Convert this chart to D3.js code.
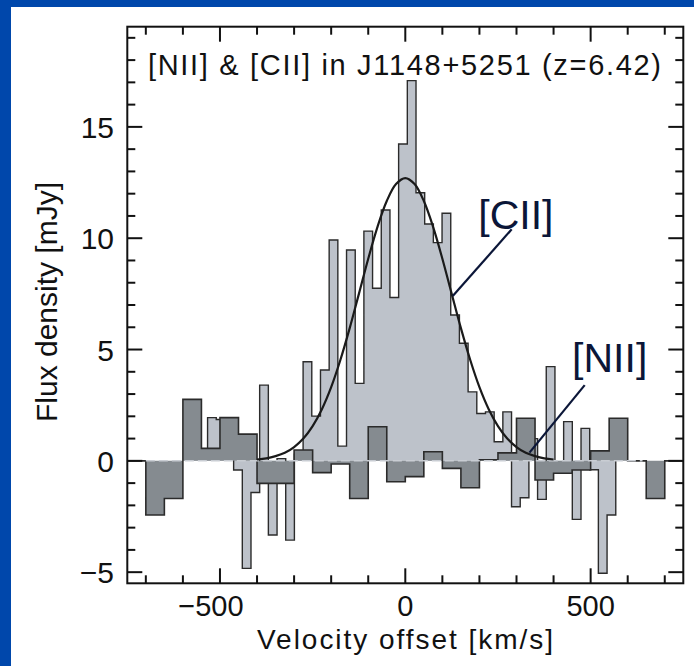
<!DOCTYPE html>
<html>
<head>
<meta charset="utf-8">
<script src="https://cdn.jsdelivr.net/npm/d3@7"></script>
<style>
  html, body { margin: 0; padding: 0; background: #0047AB; }
  svg { display: block; }
  text { font-family: "Liberation Sans", Arial, Helvetica, sans-serif; }
</style>
</head>
<body>
<svg id="chart" width="694" height="666"></svg>
<script>
// ---------------- data ----------------
const titleText = "[NII] & [CII] in J1148+5251 (z=6.42)";
const xLabel = "Velocity offset [km/s]";
const yLabel = "Flux density [mJy]";

// [CII] spectrum: channel centres (km/s) and flux (mJy)
const ciiBinWidth = 23.43;
const ciiVelocity = [-568.6, -545.2, -521.7, -498.3, -474.9, -451.4, -428.0, -404.6, -381.2, -357.7,
  -334.3, -310.9, -287.4, -264.0, -240.6, -217.1, -193.7, -170.3, -146.8, -123.4,
  -100.0, -76.6, -53.1, -29.7, -6.3, 17.2, 40.6, 64.0, 87.4, 110.9,
  134.3, 157.7, 181.2, 204.6, 228.0, 251.5, 274.9, 298.3, 321.8, 345.2,
  368.6, 392.0, 415.5, 438.9, 462.3, 485.8, 509.2, 532.6, 556.1];
const ciiFlux = [0.5, 0.3, 1.94, 1.86, 1.0, -0.41, -4.83, -1.42, 3.40, -3.33,
  0.10, -3.56, 0.30, 4.45, 2.01, 4.08, 9.92, 0.66, 9.47, 3.48,
  10.32, 7.75, 11.27, 7.34, 14.23, 17.08, 12.04, 10.64, 9.80, 11.12,
  6.55, 5.28, 3.10, 2.13, 2.20, 0.86, 2.20, -2.06, -1.66, 1.00,
  -1.73, 4.23, -0.30, 1.76, -2.63, 1.46, -0.40, -5.05, -2.43];

// [NII] spectrum: channel centres (km/s) and flux (mJy)
const niiBinWidth = 50;
const niiVelocity = [-725, -675, -625, -575, -525, -475, -425, -375, -325, -275,
  -225, -175, -125, -75, -25, 25, 75, 125, 175, 225,
  275, 325, 375, 425, 475, 525, 575, 625, 675, 725];
const niiFlux = [0, -2.43, -1.69, 2.76, 0.56, 1.94, 1.20, -1.01, -1.01, 0.49,
  -0.53, -0.14, -1.69, 1.53, -0.94, -0.71, 0.41, -0.34, -1.21, 0.05,
  0.36, 1.91, -0.86, -0.56, -0.41, 0.45, 1.91, 0, -1.69, 0];

// Gaussian fit to [CII]
const fitVelocity = [-400, -375, -350, -325, -300, -275, -250, -225, -200, -175, -150, -125, -100, -75, -50, -25,
  0, 25, 50, 75, 100, 125, 150, 175, 200, 225, 250, 275, 300, 325, 350, 375, 400];
const fitFlux = [0.06, 0.11, 0.21, 0.36, 0.62, 1.00, 1.56, 2.32, 3.31, 4.54, 5.96, 7.51, 9.08, 10.51, 11.67, 12.43,
  12.70, 12.43, 11.67, 10.51, 9.08, 7.51, 5.96, 4.54, 3.31, 2.32, 1.56, 1.00, 0.62, 0.36, 0.21, 0.11, 0.06];

// axes
const xMajorTicks = [-500, 0, 500];
const xMinorTicks = [-700, -600, -400, -300, -200, -100, 100, 200, 300, 400, 600, 700];
const yMajorTicks = [-5, 0, 5, 10, 15];
const yMinorTicks = [-4, -3, -2, -1, 1, 2, 3, 4, 6, 7, 8, 9, 11, 12, 13, 14, 16, 17, 18, 19];

// annotations: label, text anchor point (data units), pointer start & end (data units)
const annotations = [
  { label: "[CII]", at: [197, 10.4], from: [287, 10.4], to: [128, 7.4] },
  { label: "[NII]", at: [450, 4.0], from: [484, 3.4], to: [335, 0.37] }
];

// ---------------- drawing ----------------
const svg = d3.select("#chart");
const W = 694, H = 666;
const plot = { left: 127.3, right: 683.3, top: 26.7, bottom: 583.3 };

svg.append("rect").attr("width", W).attr("height", H).attr("fill", "#0047AB");
svg.append("rect").attr("x", 11).attr("y", 7).attr("width", W - 11).attr("height", H - 7).attr("fill", "#ffffff");

const x = d3.scaleLinear().domain([-750, 750]).range([plot.left, plot.right]);
const y = d3.scaleLinear().domain([-5.5, 19.5]).range([plot.bottom, plot.top]);

const g = svg.append("g");
const clip = svg.append("defs").append("clipPath").attr("id", "pc");
clip.append("rect").attr("x", plot.left).attr("y", plot.top)
  .attr("width", plot.right - plot.left).attr("height", plot.bottom - plot.top);
const pg = g.append("g").attr("clip-path", "url(#pc)");

function stepPoints(vel, flux, w) {
  const pts = [];
  pts.push([vel[0] - w / 2, 0]);
  vel.forEach((v, i) => {
    pts.push([v - w / 2, flux[i]]);
    pts.push([v + w / 2, flux[i]]);
  });
  pts.push([vel[vel.length - 1] + w / 2, 0]);
  return pts;
}

const area = d3.area().x(d => x(d[0])).y0(y(0)).y1(d => y(d[1]));
const line = d3.line().x(d => x(d[0])).y(d => y(d[1]));

// [CII] histogram
const ciiPts = stepPoints(ciiVelocity, ciiFlux, ciiBinWidth);
pg.append("path").attr("d", area(ciiPts)).attr("fill", "#bdc2ca");
pg.append("path").attr("d", line(ciiPts)).attr("fill", "none")
  .attr("stroke", "#2b2b2b").attr("stroke-width", 1.4);

// [NII] histogram
const niiPts = stepPoints(niiVelocity, niiFlux, niiBinWidth);
pg.append("path").attr("d", area(niiPts)).attr("fill", "#858b90");
pg.append("path").attr("d", line(niiPts)).attr("fill", "none")
  .attr("stroke", "#2b2b2b").attr("stroke-width", 1.6);

// faint dashed zero level
pg.append("line")
  .attr("x1", x(-700)).attr("x2", x(640)).attr("y1", y(0)).attr("y2", y(0))
  .attr("stroke", "#c9cdd3").attr("stroke-width", 1.5).attr("stroke-dasharray", "9,4");

// Gaussian fit
pg.append("path")
  .datum(fitVelocity.map((v, i) => [v, fitFlux[i]]))
  .attr("d", d3.line().x(d => x(d[0])).y(d => y(d[1])).curve(d3.curveCatmullRom))
  .attr("fill", "none").attr("stroke", "#1a1a1a").attr("stroke-width", 2.2);

// annotations
annotations.forEach(a => {
  g.append("line")
    .attr("x1", x(a.from[0])).attr("y1", y(a.from[1]))
    .attr("x2", x(a.to[0])).attr("y2", y(a.to[1]))
    .attr("stroke", "#0b1638").attr("stroke-width", 2.2);
  g.append("text").attr("x", x(a.at[0])).attr("y", y(a.at[1]))
    .attr("font-size", 41).attr("fill", "#0b1638").text(a.label);
});

// frame
g.append("rect").attr("x", plot.left).attr("y", plot.top)
  .attr("width", plot.right - plot.left).attr("height", plot.bottom - plot.top)
  .attr("fill", "none").attr("stroke", "#111").attr("stroke-width", 2);

// ticks (inward, all four sides)
const tk = g.append("g").attr("stroke", "#111").attr("stroke-width", 2);
function xTicks(vals, len) {
  vals.forEach(v => {
    tk.append("line").attr("x1", x(v)).attr("x2", x(v)).attr("y1", plot.bottom).attr("y2", plot.bottom - len);
    tk.append("line").attr("x1", x(v)).attr("x2", x(v)).attr("y1", plot.top).attr("y2", plot.top + len);
  });
}
function yTicks(vals, len) {
  vals.forEach(v => {
    tk.append("line").attr("y1", y(v)).attr("y2", y(v)).attr("x1", plot.left).attr("x2", plot.left + len);
    tk.append("line").attr("y1", y(v)).attr("y2", y(v)).attr("x1", plot.right).attr("x2", plot.right - len);
  });
}
xTicks(xMajorTicks, 15); xTicks(xMinorTicks, 8);
yTicks(yMajorTicks, 15); yTicks(yMinorTicks, 8);

const fmt = v => (v < 0 ? "\u2212" + Math.abs(v) : String(v));
g.selectAll(".xl").data(xMajorTicks).enter().append("text")
  .attr("x", d => x(d) - (d < 0 ? 9 : 0)).attr("y", 616)
  .attr("text-anchor", "middle").attr("font-size", 29).attr("fill", "#111").text(fmt);
g.selectAll(".yl").data(yMajorTicks).enter().append("text")
  .attr("x", 114).attr("y", d => y(d) + 11)
  .attr("text-anchor", "end").attr("font-size", 30).attr("fill", "#111").text(fmt);

g.append("text").attr("x", 405).attr("y", 649).attr("text-anchor", "middle")
  .attr("font-size", 28).attr("fill", "#111")
  .attr("textLength", 296).attr("lengthAdjust", "spacing").text(xLabel);
g.append("text").attr("transform", "translate(57,302) rotate(-90)").attr("text-anchor", "middle")
  .attr("font-size", 30).attr("fill", "#111").text(yLabel);

g.append("text").attr("x", 148).attr("y", 75).attr("font-size", 29).attr("fill", "#111")
  .attr("textLength", 513).attr("lengthAdjust", "spacing").text(titleText);
</script>
</body>
</html>
